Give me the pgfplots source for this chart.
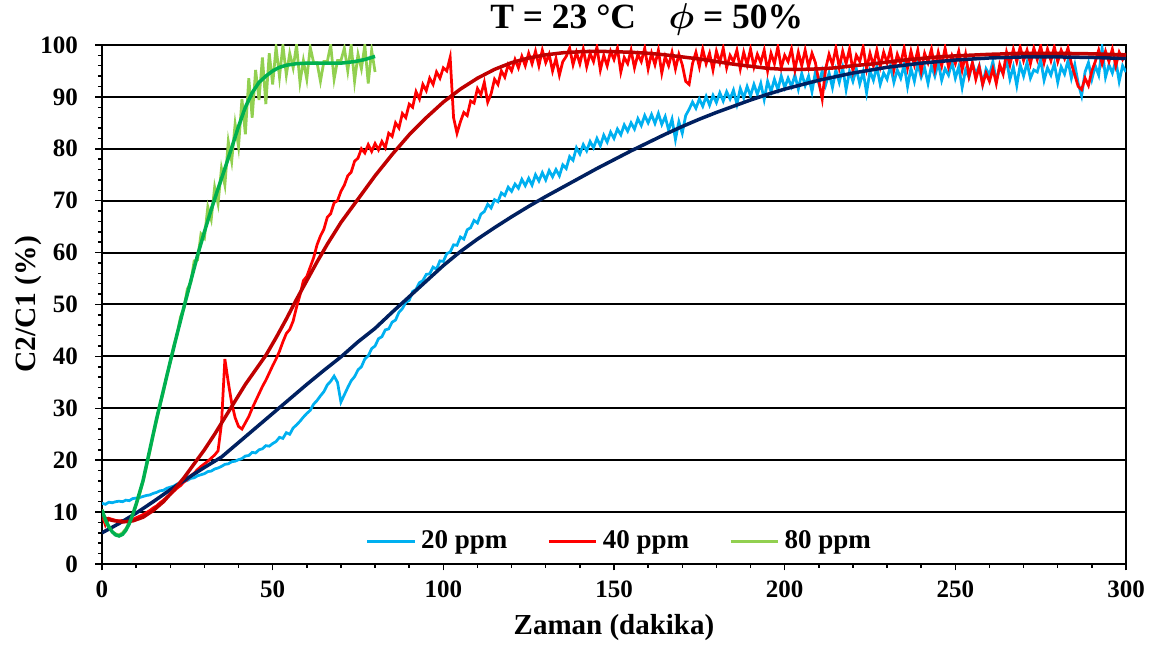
\documentclass[border=0pt]{standalone}
\usepackage{pgfplots}
\pgfplotsset{compat=1.18}
\usepackage{fontspec}
\setmainfont{Liberation Serif}
\definecolor{cblue}{RGB}{0,176,240}
\definecolor{cred}{RGB}{255,0,0}
\definecolor{cgreen}{RGB}{146,208,80}
\definecolor{fnavy}{RGB}{0,32,96}
\definecolor{fred}{RGB}{192,0,0}
\definecolor{fgreen}{RGB}{0,176,80}
\begin{document}
\begin{tikzpicture}
\begin{axis}[
  scale only axis, width=409.6pt, height=207.6pt,
  xmin=0, xmax=300, ymin=0, ymax=100,
  clip mode=individual,
  xtick={0,50,...,300}, ytick={0,10,...,100},
  minor x tick num=4, minor y tick num=4,
  xtick pos=left, ytick pos=left,
  tick align=outside, major tick length=2.6pt, minor tick length=1.6pt,
  tick style={black, line width=0.6pt},
  ymajorgrids, major grid style={black, line width=0.8pt},
  axis line style={black, line width=0.9pt},
  /pgf/number format/assume math mode=true,
  tick label style={font=\fontsize{10}{12}\selectfont\bfseries},
  yticklabel style={xshift=-3.5pt},
  xticklabel style={yshift=-0.5pt},
  xlabel={Zaman (dakika)}, ylabel={C2/C1 (\%)},
  xlabel style={font=\fontsize{11.6}{13}\selectfont\bfseries, at={(axis description cs:0.5,-0.123)}, anchor=center},
  ylabel style={font=\fontsize{11.8}{13}\selectfont\bfseries, at={(axis description cs:-0.0723,0.5)}, anchor=center},
  legend columns=3,
  legend style={at={(axis cs:152,4.4)}, anchor=center, draw=none, fill=none,
    font=\fontsize{10.8}{12}\selectfont\bfseries, inner sep=0pt,
    /tikz/every even column/.append style={column sep=14pt}},
  legend image code/.code={\draw[#1, line width=1.2pt] (0pt,0pt) -- (19pt,0pt);},
]
% 20 ppm measured
\addplot[cblue, line width=1.1pt] coordinates {
(0,11.7)(1,11.5)(2,11.9)(3,11.8)(4,12.0)(5,12.1)(6,12.0)(7,12.3)(8,12.2)(9,12.6)
(10,12.7)(11,12.8)(12,13.0)(13,13.2)(14,13.3)(15,13.6)(16,13.8)(17,14.1)(18,14.2)(19,14.6)
(20,14.8)(21,15.0)(22,15.4)(23,15.6)(24,15.9)(25,16.1)(26,16.5)(27,16.6)(28,17.0)(29,17.2)
(30,17.4)(31,17.8)(32,17.9)(33,18.3)(34,18.5)(35,18.8)(36,19.2)(37,19.3)(38,19.7)(39,19.8)
(40,20.1)(41,20.3)(42,20.8)(43,20.9)(44,21.5)(45,21.4)(46,22.0)(47,22.2)(48,22.8)(49,22.7)
(50,23.2)(51,23.6)(52,24.4)(53,24.2)(54,25.3)(55,25.0)(56,26.2)(57,26.8)(58,27.5)(59,28.3)
(60,29.0)(61,29.6)(62,30.8)(63,31.5)(64,32.4)(65,33.2)(66,34.5)(67,35.2)(68,36.2)(69,35.0)
(70,31.2)(71,32.6)(72,34.0)(73,35.3)(74,36.1)(75,37.4)(76,38.0)(77,39.5)(78,40.1)(79,41.5)
(80,42.0)(81,43.4)(82,43.8)(83,45.1)(84,45.3)(85,46.6)(86,47.0)(87,48.5)(88,49.2)(89,50.4)
(90,50.8)(91,52.5)(92,52.9)(93,54.2)(94,54.6)(95,55.8)(96,55.9)(97,57.2)(98,56.8)(99,58.4)
(100,58.3)(101,59.8)(102,60.1)(103,61.5)(104,61.4)(105,63.0)(106,62.6)(107,64.4)(108,64.8)(109,66.2)
(110,65.7)(111,67.4)(112,67.9)(113,69.3)(114,68.6)(115,70.2)(116,69.8)(117,71.5)(118,71.0)(119,72.6)
(120,71.8)(121,73.2)(122,72.4)(123,74.1)(124,72.9)(125,74.3)(126,73.0)(127,75.0)(128,73.8)(129,75.4)
(130,74.0)(131,75.8)(132,74.6)(133,76.0)(134,74.8)(135,76.9)(136,76.2)(137,78.5)(138,77.8)(139,80.2)
(140,79.0)(141,80.8)(142,79.6)(143,81.4)(144,80.2)(145,82.0)(146,80.6)(147,82.6)(148,81.3)(149,83.2)
(150,82.0)(151,83.8)(152,82.7)(153,84.6)(154,83.4)(155,85.0)(156,83.8)(157,85.8)(158,84.5)(159,86.4)
(160,85.0)(161,86.6)(162,84.9)(163,86.8)(164,84.7)(165,86.2)(166,83.6)(167,85.7)(168,81.8)(169,85.2)
(170,83.0)(171,86.4)(172,87.6)(173,89.0)(174,87.8)(175,89.6)(176,88.2)(177,90.1)(178,88.4)(179,90.3)
(180,88.9)(181,90.8)(182,89.2)(183,91.0)(184,89.6)(185,91.3)(186,88.6)(187,91.6)(188,89.8)(189,92.0)
(190,90.2)(191,92.4)(192,90.5)(193,92.6)(194,89.5)(195,93.0)(196,91.0)(197,93.4)(198,91.4)(199,94.0)
(200,91.8)(201,93.6)(202,92.0)(203,94.2)(204,91.5)(205,94.5)(206,92.2)(207,94.0)(208,91.0)(209,94.8)
(210,92.6)(211,95.0)(212,92.3)(213,94.6)(214,91.8)(215,95.2)(216,92.8)(217,95.6)(218,91.4)(219,94.9)
(220,93.0)(221,95.4)(222,92.5)(223,94.8)(224,90.8)(225,95.0)(226,93.2)(227,95.8)(228,92.4)(229,94.6)
(230,93.4)(231,96.0)(232,92.8)(233,95.2)(234,93.6)(235,96.2)(236,92.0)(237,95.5)(238,93.0)(239,96.4)
(240,93.8)(241,95.6)(242,92.6)(243,96.0)(244,94.0)(245,96.6)(246,93.2)(247,95.4)(248,94.2)(249,96.8)
(250,93.6)(251,95.8)(252,91.8)(253,95.2)(254,93.8)(255,96.5)(256,94.4)(257,96.0)(258,92.4)(259,95.4)
(260,94.2)(261,96.8)(262,93.0)(263,95.6)(264,94.6)(265,97.0)(266,93.4)(267,95.8)(268,92.2)(269,96.2)
(270,94.0)(271,96.6)(272,93.6)(273,95.2)(274,94.8)(275,97.2)(276,93.2)(277,95.6)(278,94.2)(279,96.4)
(280,92.8)(281,95.8)(282,94.4)(283,97.0)(284,93.6)(285,96.2)(286,92.6)(287,90.2)(288,94.8)(289,96.6)
(290,93.4)(291,96.0)(292,94.2)(293,99.4)(294,93.8)(295,96.2)(296,94.6)(297,97.0)(298,93.0)(299,96.0)
(300,94.8)};
\addlegendentry{20 ppm}
% 40 ppm measured
\addplot[cred, line width=1.1pt] coordinates {
(0,9.5)(1,7.5)(2,8.8)(3,8.6)(4,8.4)(5,8.3)(6,8.4)(7,8.3)(8,8.5)(9,8.6)
(10,8.9)(11,9.2)(12,9.5)(13,9.9)(14,10.3)(15,10.8)(16,11.2)(17,11.8)(18,12.3)(19,12.9)
(20,13.4)(21,14.0)(22,14.6)(23,15.1)(24,15.8)(25,16.3)(26,17.0)(27,17.5)(28,18.2)(29,18.8)
(30,19.3)(31,19.8)(32,20.4)(33,21.0)(34,21.8)(35,27.0)(36,39.5)(37,35.0)(38,31.0)(39,28.2)
(40,26.5)(41,26.0)(42,27.2)(43,28.4)(44,30.0)(45,31.4)(46,32.8)(47,34.2)(48,35.4)(49,36.8)
(50,38.2)(51,39.5)(52,41.0)(53,42.8)(54,44.4)(55,45.2)(56,46.8)(57,49.5)(58,51.8)(59,54.6)
(60,55.4)(61,57.2)(62,59.0)(63,61.5)(64,63.2)(65,64.5)(66,66.8)(67,67.5)(68,69.6)(69,70.0)
(70,71.8)(71,73.0)(72,74.8)(73,75.5)(74,77.6)(75,78.2)(76,80.0)(77,79.2)(78,80.8)(79,79.5)
(80,81.0)(81,79.8)(82,81.4)(83,80.2)(84,83.0)(85,82.4)(86,85.0)(87,84.0)(88,86.8)(89,86.0)
(90,88.6)(91,88.0)(92,91.0)(93,89.6)(94,92.4)(95,91.2)(96,93.6)(97,92.4)(98,94.8)(99,93.6)
(100,95.6)(101,95.0)(102,97.6)(103,86.0)(104,83.0)(105,85.2)(106,87.0)(107,86.4)(108,89.2)(109,88.8)
(110,91.6)(111,90.4)(112,92.8)(113,89.0)(114,90.6)(115,93.4)(116,92.4)(117,95.0)(118,93.8)(119,96.2)
(120,95.0)(121,97.2)(122,95.6)(123,97.8)(124,96.0)(125,98.4)(126,96.4)(127,98.8)(128,96.0)(129,99.0)
(130,96.6)(131,98.2)(132,95.0)(133,97.4)(134,94.2)(135,96.8)(136,97.8)(137,99.4)(138,96.2)(139,98.6)
(140,96.4)(141,99.2)(142,95.8)(143,98.4)(144,96.8)(145,99.6)(146,95.2)(147,98.0)(148,96.0)(149,98.8)
(150,97.2)(151,99.4)(152,94.8)(153,97.6)(154,96.4)(155,99.0)(156,95.6)(157,98.2)(158,96.8)(159,99.4)
(160,95.4)(161,98.4)(162,96.2)(163,99.0)(164,94.6)(165,97.8)(166,96.0)(167,98.6)(168,95.4)(169,98.2)
(170,96.2)(171,93.0)(172,92.4)(173,96.4)(174,98.6)(175,95.8)(176,99.2)(177,96.4)(178,98.4)(179,95.2)
(180,98.8)(181,96.6)(182,99.4)(183,95.6)(184,98.0)(185,96.8)(186,99.0)(187,95.4)(188,98.6)(189,96.2)
(190,99.2)(191,95.8)(192,98.2)(193,96.6)(194,99.0)(195,95.0)(196,98.4)(197,96.4)(198,99.6)(199,95.6)
(200,98.0)(201,96.8)(202,99.2)(203,95.2)(204,98.6)(205,96.0)(206,99.0)(207,95.8)(208,98.4)(209,96.6)
(210,93.0)(211,89.6)(212,95.4)(213,98.2)(214,96.2)(215,99.4)(216,95.6)(217,98.8)(218,96.4)(219,99.2)
(220,95.0)(221,98.0)(222,96.8)(223,99.6)(224,95.4)(225,98.4)(226,96.0)(227,99.0)(228,95.8)(229,98.6)
(230,96.6)(231,99.2)(232,95.2)(233,98.2)(234,96.4)(235,99.4)(236,95.6)(237,98.8)(238,96.2)(239,99.0)
(240,95.0)(241,98.4)(242,96.6)(243,99.2)(244,95.4)(245,98.6)(246,96.0)(247,99.4)(248,95.8)(249,98.0)
(250,96.4)(251,98.8)(252,95.2)(253,98.2)(254,94.0)(255,96.6)(256,93.4)(257,95.8)(258,92.4)(259,94.6)
(260,93.0)(261,95.4)(262,92.6)(263,96.2)(264,94.4)(265,98.6)(266,96.2)(267,99.2)(268,96.8)(269,99.6)
(270,97.0)(271,99.0)(272,96.4)(273,99.4)(274,97.2)(275,99.8)(276,96.6)(277,99.2)(278,97.0)(279,99.6)
(280,96.8)(281,99.0)(282,97.4)(283,99.4)(284,96.4)(285,94.2)(286,92.0)(287,91.4)(288,93.6)(289,92.2)
(290,95.0)(291,96.8)(292,99.0)(293,96.4)(294,98.8)(295,96.8)(296,99.2)(297,96.0)(298,98.6)(299,97.2)
(300,98.4)};
\addlegendentry{40 ppm}
% 80 ppm measured
\addplot[cgreen, line width=1.1pt] coordinates {
(0,10.5)(1,8.2)(2,7.0)(3,6.2)(4,5.8)(5,5.6)(6,6.0)(7,6.8)(8,8.0)(9,9.6)
(10,11.4)(11,13.4)(12,15.8)(13,18.6)(14,21.6)(15,24.8)(16,27.6)(17,30.6)(18,33.2)(19,36.4)
(20,38.8)(21,42.0)(22,44.2)(23,47.6)(24,49.2)(25,53.0)(26,54.2)(27,58.4)(28,58.6)(29,63.6)
(30,62.8)(31,68.8)(32,66.4)(33,72.6)(34,69.4)(35,76.2)(36,73.0)(37,81.4)(38,77.6)(39,84.8)
(40,80.4)(41,89.6)(42,82.8)(43,93.6)(44,86.0)(45,95.2)(46,89.4)(47,97.6)(48,88.6)(49,98.4)
(50,92.4)(51,99.6)(52,93.8)(53,100)(54,94.2)(55,98.4)(56,95.6)(57,100)(58,92.8)(59,97.0)
(60,93.4)(61,99.6)(62,96.6)(63,96.6)(64,93.0)(65,96.8)(66,96.8)(67,100)(68,93.4)(69,97.0)
(70,97.0)(71,99.4)(72,95.0)(73,100)(74,93.0)(75,98.2)(76,95.4)(77,100)(78,92.6)(79,99.0)
(80,94.8)};
\addlegendentry{80 ppm}
% fits
\addplot[fnavy, line width=1.4pt, forget plot] coordinates {
(0,6.0)(5,7.8)(10,9.8)(15,12.0)(20,14.3)(25,16.5)(30,18.6)(35,20.6)(40,23.4)(45,26.2)
(50,29.0)(55,31.8)(60,34.6)(65,37.3)(70,39.9)(75,42.8)(80,45.4)(85,48.5)(90,51.5)(95,54.5)
(100,57.5)(105,60.2)(110,62.6)(115,64.8)(120,66.9)(125,68.9)(130,70.8)(135,72.6)(140,74.4)(145,76.2)
(150,77.9)(155,79.6)(160,81.2)(165,82.8)(170,84.3)(175,85.7)(180,87.0)(185,88.2)(190,89.4)(195,90.5)
(200,91.5)(210,93.2)(220,94.6)(230,95.7)(240,96.5)(250,97.1)(260,97.5)(270,97.7)(280,97.7)(290,97.6)(300,97.4)};
\addplot[fred, line width=1.4pt, forget plot] coordinates {
(0,9.0)(3,8.4)(6,8.1)(9,8.3)(12,9.0)(15,10.3)(18,12.0)(21,14.2)(24,16.6)(27,19.3)
(30,22.0)(33,25.0)(36,28.2)(39,31.4)(42,34.6)(45,37.4)(48,40.2)(51,43.6)(54,47.2)(57,51.0)
(60,54.6)(63,58.2)(66,61.6)(70,65.8)(75,70.3)(80,74.8)(85,78.9)(90,82.7)(95,86.0)(100,89.0)
(105,91.5)(110,93.6)(115,95.3)(120,96.6)(125,97.5)(130,98.1)(135,98.5)(140,98.7)(145,98.8)(150,98.7)
(155,98.6)(160,98.4)(165,98.1)(170,97.7)(175,97.3)(180,96.8)(185,96.3)(190,95.9)(195,95.5)(200,95.3)
(205,95.3)(210,95.4)(215,95.6)(220,96.0)(225,96.3)(230,96.7)(235,97.1)(240,97.4)(245,97.7)(250,97.9)
(260,98.2)(270,98.4)(280,98.4)(290,98.3)(300,98.1)};
\addplot[fgreen, line width=1.4pt, forget plot] coordinates {
(0,10.4)(1,8.5)(2,7.2)(3,6.2)(4,5.6)(5,5.4)(6,5.7)(7,6.5)(8,7.8)(9,9.5)
(10,11.5)(12,16.0)(14,22.0)(16,28.0)(18,33.5)(20,39.0)(22,44.3)(24,49.5)(26,54.5)(28,59.5)
(30,64.0)(32,68.3)(34,72.3)(36,76.2)(38,80.2)(40,84.3)(42,88.0)(44,90.8)(46,92.8)(48,94.0)
(50,95.0)(52,95.7)(54,96.1)(57,96.4)(60,96.5)(65,96.5)(70,96.5)(74,96.8)(77,97.2)(80,97.8)};
\node[font=\fontsize{14.2}{16}\selectfont\bfseries, anchor=center, yshift=10.2pt]
  at (axis description cs:0.532,1) {T = 23 °C\hspace{13pt}{\boldmath$\phi$} = 50\%};
\end{axis}
\pgfresetboundingbox
\path (current axis.south west) ++(-40.8pt,-32.8pt) coordinate (bbA);
\path (current axis.north east) ++(10.4pt,18pt) coordinate (bbB);
\useasboundingbox (bbA) rectangle (bbB);
\end{tikzpicture}
\end{document}
